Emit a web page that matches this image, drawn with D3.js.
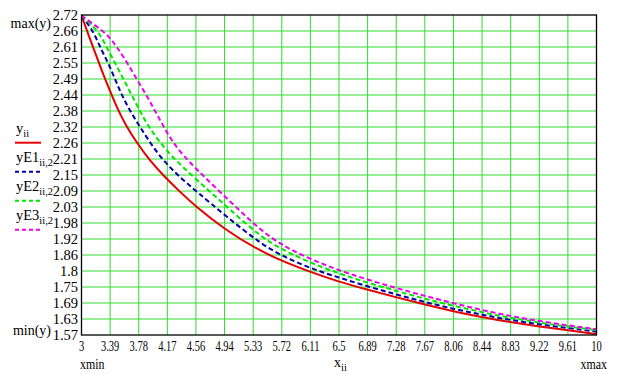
<!DOCTYPE html>
<html><head><meta charset="utf-8">
<script src="https://cdn.jsdelivr.net/npm/d3@7"></script>
<style>
body{margin:0;background:#fff}
svg{display:block}
text{font-family:"Liberation Serif","Times New Roman",serif;fill:#000}
</style>
</head><body>
<svg id="c" width="620" height="374"></svg>
<script>
// ---- data ----
const xMin = 3, xMax = 10, yMin = 1.57, yMax = 2.72;
const xTickLabels = ["3","3.39","3.78","4.17","4.56","4.94","5.33","5.72","6.11","6.5","6.89","7.28","7.67","8.06","8.44","8.83","9.22","9.61","10"];
const yTickLabels = ["2.72","2.66","2.61","2.55","2.49","2.44","2.38","2.32","2.26","2.21","2.15","2.09","2.03","1.98","1.92","1.86","1.8","1.75","1.69","1.63","1.57"];

const yExact = [[3,2.718],[3.10,2.645],[3.17,2.595],[3.242,2.545],[3.32,2.49],[3.41,2.433],[3.50,2.377],[3.614,2.318],[3.75,2.262],[3.92,2.199],[4.135,2.137],[4.337,2.085],[4.543,2.034],[4.95,1.949],[5.358,1.882],[5.72,1.836],[6.106,1.797],[6.49,1.762],[6.898,1.732],[7.284,1.705],[7.67,1.679],[8.054,1.655],[8.44,1.634],[8.824,1.616],[9.23,1.600],[9.617,1.587],[10,1.573]];
const yE1 = [[3,2.718],[3.16,2.663],[3.25,2.605],[3.364,2.548],[3.455,2.49],[3.546,2.433],[3.66,2.375],[3.795,2.318],[3.93,2.262],[4.09,2.203],[4.33,2.138],[4.59,2.08],[4.95,2.0],[5.426,1.90],[5.72,1.855],[6.106,1.81],[6.49,1.777],[6.898,1.744],[7.3,1.714],[7.67,1.688],[8.054,1.664],[8.44,1.643],[8.824,1.624],[9.23,1.608],[9.617,1.595],[10,1.582]];
const yE2 = [[3,2.718],[3.23,2.663],[3.34,2.605],[3.455,2.548],[3.57,2.49],[3.68,2.433],[3.795,2.375],[3.91,2.318],[4.07,2.262],[4.25,2.203],[4.747,2.085],[5.0,2.025],[5.426,1.925],[5.72,1.878],[6.106,1.83],[6.49,1.792],[6.898,1.757],[7.3,1.727],[7.67,1.70],[8.054,1.675],[8.44,1.652],[8.824,1.632],[9.23,1.614],[9.617,1.60],[10,1.588]];
const yE3 = [[3,2.718],[3.2,2.68],[3.364,2.647],[3.48,2.605],[3.614,2.552],[3.75,2.49],[3.886,2.43],[4.0,2.375],[4.11,2.322],[4.225,2.268],[4.43,2.199],[4.88,2.085],[5.426,1.947],[5.74,1.89],[6.106,1.843],[6.49,1.803],[6.898,1.768],[7.3,1.737],[7.67,1.71],[8.054,1.684],[8.44,1.66],[8.824,1.638],[9.23,1.62],[9.617,1.604],[10,1.591]];

const seriesNames = [["y","ii"],["yE1","ii,2"],["yE2","ii,2"],["yE3","ii,2"]];
const seriesData = [yExact, yE1, yE2, yE3];

// ---- styles ----
const colors = ["#e80000","#0000a8","#00e600","#ee00ee"];
const dashes = [null,"5,3","5,3","5,3"];
const gridColor = "#2fdc2f";

const L = 81.5, R = 596.5, T = 15, B = 335;
const svg = d3.select("#c");
const x = d3.scaleLinear().domain([xMin, xMax]).range([L, R]);
const y = d3.scaleLinear().domain([yMin, yMax]).range([B, T]);

const xTickVals = xTickLabels.map((d,i) => xMin + i*(xMax-xMin)/(xTickLabels.length-1));
const yTickVals = yTickLabels.map((d,i) => yMax - i*(yMax-yMin)/(yTickLabels.length-1));

// grid
const g = svg.append("g");
g.selectAll("line.vx").data(xTickVals.slice(1,-1)).join("line")
  .attr("x1", d=>x(d)).attr("x2", d=>x(d)).attr("y1", T).attr("y2", B)
  .attr("stroke", gridColor).attr("stroke-width", 1);
g.selectAll("line.hy").data(yTickVals.slice(1,-1)).join("line")
  .attr("y1", d=>y(d)).attr("y2", d=>y(d)).attr("x1", L).attr("x2", R)
  .attr("stroke", gridColor).attr("stroke-width", 1);

// curves
svg.append("clipPath").attr("id","pc").append("rect")
  .attr("x", L).attr("y", T-2).attr("width", R-L).attr("height", B-T+2);
const line = d3.line().x(d=>x(d[0])).y(d=>y(d[1])).curve(d3.curveBasis);
const cg = svg.append("g").attr("clip-path","url(#pc)");
seriesData.forEach((s,i) => {
  cg.append("path").attr("d", line(s)).attr("fill","none")
    .attr("stroke", colors[i]).attr("stroke-width", 2)
    .attr("stroke-dasharray", dashes[i]);
});

// frame
svg.append("rect").attr("x", L).attr("y", T).attr("width", R-L).attr("height", B-T)
  .attr("fill","none").attr("stroke","#000").attr("stroke-width",1.3);

// y tick labels
svg.selectAll("text.yt").data(yTickLabels).join("text")
  .attr("x", 78).attr("y", (d,i)=>y(yTickVals[i])+5)
  .attr("text-anchor","end").attr("font-size",14.5).text(d=>d);

// x tick labels (compressed)
svg.selectAll("text.xt").data(xTickLabels).join("text")
  .attr("transform", (d,i)=>`translate(${x(xTickVals[i])},351) scale(0.7,1)`)
  .attr("text-anchor","middle").attr("font-size",15).text(d=>d);

// axis limit labels
svg.append("text").attr("x",51).attr("y",28).attr("text-anchor","end").attr("font-size",14).text("max(y)");
svg.append("text").attr("x",51).attr("y",335).attr("text-anchor","end").attr("font-size",14).text("min(y)");
svg.append("text").attr("transform","translate(80,369) scale(0.85,1)").attr("font-size",14).text("xmin");
svg.append("text").attr("transform","translate(607,369) scale(0.85,1)").attr("text-anchor","end").attr("font-size",14).text("xmax");
const xl = svg.append("text").attr("x",334).attr("y",367).attr("font-size",14);
xl.append("tspan").text("x");
xl.append("tspan").attr("dy",4).attr("font-size",10.5).text("ii");

// legend
seriesNames.forEach((n,i) => {
  const ly = 142.7 + i*29;
  const t = svg.append("text").attr("x",16).attr("y", ly-10).attr("font-size",14.5);
  t.append("tspan").text(n[0]);
  t.append("tspan").attr("dy",4).attr("font-size",10.5).text(n[1]);
  svg.append("line").attr("x1",15).attr("x2",41).attr("y1",ly).attr("y2",ly)
    .attr("stroke",colors[i]).attr("stroke-width",2).attr("stroke-dasharray", dashes[i] ? "4,3" : null);
});
</script>
</body></html>
